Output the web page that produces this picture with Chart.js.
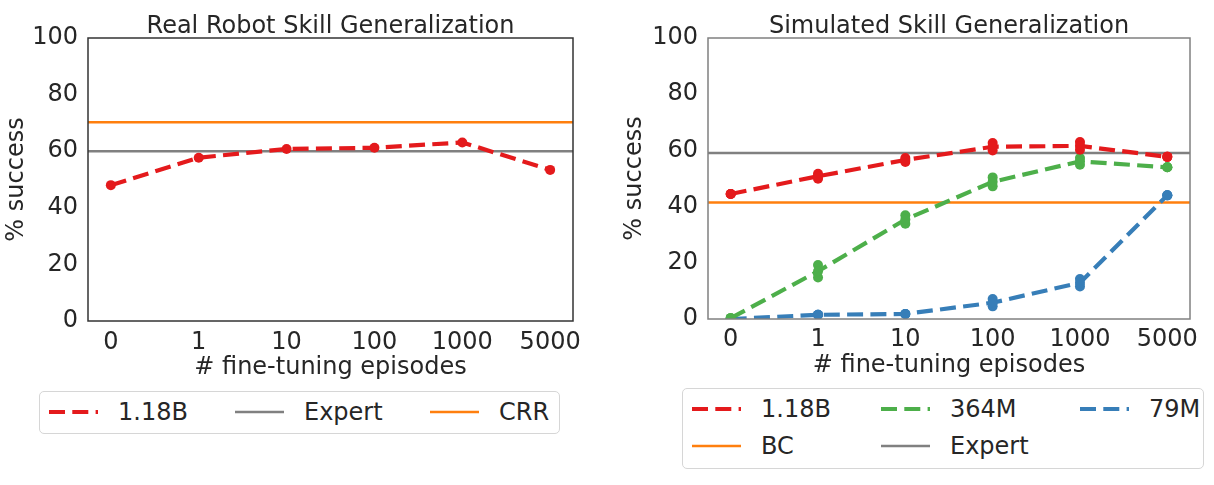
<!DOCTYPE html>
<html>
<head>
<meta charset="utf-8">
<script src="https://cdn.jsdelivr.net/npm/chart.js@4.4.1/dist/chart.umd.min.js"></script>
<style>
body { margin: 0; background: #fff; font-family: "DejaVu Sans", sans-serif; color: #262626; }
#wrap { position: relative; width: 1214px; height: 485px; overflow: hidden; }
canvas { position: absolute; top: 0; }
.legend { position: absolute; box-sizing: border-box; border: 1px solid #d6d6d6; border-radius: 5px; background: #fff; font-size: 24px; }
.item { position: absolute; display: flex; align-items: center; height: 30px; white-space: nowrap; }
.item svg { margin-right: 20px; }
</style>
</head>
<body>
<div id="wrap">
  <canvas id="realChart" width="600" height="385" style="left:0"></canvas>
  <canvas id="simChart" width="614" height="385" style="left:600px"></canvas>
  <div class="legend" id="realLegend" style="left:39px; top:391px; width:521px; height:43px"></div>
  <div class="legend" id="simLegend" style="left:682px; top:388px; width:522px; height:81px"></div>
</div>
<script>
// x categories (plotted at index positions)
const episodeLabels = ["0", "1", "10", "100", "1000", "5000"];
const xIdx = [0, 1, 2, 3, 4, 5];
const yTicks = [0, 20, 40, 60, 80, 100];

// Real robot
const realBig = [48.0, 57.7, 60.8, 61.2, 63.1, 53.4];
const realExpert = 60.0;
const realCRR = 70.2;

// Simulated - mean line and the two runs behind it
const simBig = [44.5, 50.8, 56.6, 61.3, 61.6, 57.7];
const simBigRunA = [44.5, 51.7, 57.3, 62.6, 63.0, 57.7];
const simBigRunB = [44.5, 49.9, 55.9, 60.0, 60.2, 57.7];

const simMid = [0.3, 17.0, 35.4, 48.8, 56.1, 54.0];
const simMidRunA = [0.3, 19.2, 36.9, 50.4, 57.3, 54.0];
const simMidRunB = [0.3, 14.8, 33.9, 47.2, 54.9, 54.0];

const simSmall = [0.0, 1.5, 1.8, 5.8, 12.9, 44.0];
const simSmallRunA = [0.0, 1.5, 1.8, 7.1, 14.2, 44.0];
const simSmallRunB = [0.0, 1.5, 1.8, 4.5, 11.6, 44.0];

const simExpert = 59.1;
const simBC = 41.5;

const RED = "#e41a1c", GREEN = "#4daf4a", BLUE = "#377eb8", ORANGE = "#ff7f0e", GRAY = "#808080";
const TEXT = "#262626";
const FONT = "DejaVu Sans";
const X_MIN = -0.26, X_MAX = 5.26;
const DASH = [16, 7.3];

const pts = vals => vals.map((v, i) => ({ x: xIdx[i], y: v }));
const flat = v => [{ x: X_MIN, y: v }, { x: X_MAX, y: v }];

function dashed(label, vals, color) {
    return {
        label: label, data: pts(vals), borderColor: color, backgroundColor: color,
        borderWidth: 4.2, borderDash: DASH, pointRadius: 5, pointHoverRadius: 5,
        pointBorderWidth: 0, order: 1
    };
}
function runs(vals, color) {
    return {
        data: pts(vals), showLine: false, borderColor: color, backgroundColor: color,
        pointRadius: 5, pointHoverRadius: 5, pointBorderWidth: 0, order: 2
    };
}
function hline(label, v, color) {
    return {
        label: label, data: flat(v), borderColor: color, borderWidth: 2.5,
        pointRadius: 0, pointHoverRadius: 0, order: 3
    };
}

// title centred on the plot box + the box frame
const frameTitle = {
    id: "frameTitle",
    afterDraw(chart, args, opts) {
        const { ctx, chartArea } = chart;
        ctx.save();
        ctx.strokeStyle = opts.frame;
        ctx.lineWidth = 1.5;
        ctx.strokeRect(chartArea.left, chartArea.top, chartArea.right - chartArea.left, chartArea.bottom - chartArea.top);
        ctx.font = "24px '" + FONT + "'";
        ctx.fillStyle = TEXT;
        ctx.textAlign = "center";
        ctx.textBaseline = "alphabetic";
        ctx.fillText(opts.text, (chartArea.left + chartArea.right) / 2, opts.y);
        ctx.restore();
    }
};

function makeOptions(cfg) {
    const font = { family: FONT, size: 24 };
    return {
        responsive: false,
        animation: false,
        layout: { padding: cfg.pad },
        plugins: {
            legend: { display: false },
            tooltip: { enabled: false },
            frameTitle: { text: cfg.title, frame: cfg.frame, y: 33 }
        },
        scales: {
            x: {
                type: "linear", min: X_MIN, max: X_MAX,
                afterBuildTicks: s => { s.ticks = xIdx.map(v => ({ value: v })); },
                ticks: { callback: v => episodeLabels[v], font: font, color: TEXT, padding: cfg.xPad, maxRotation: 0, autoSkip: false },
                grid: { display: false, drawTicks: false },
                border: { display: false },
                title: { display: true, text: "# fine-tuning episodes", font: font, color: TEXT, padding: 0 },
                afterFit: s => { s.height = cfg.xH; }
            },
            y: {
                min: 0, max: 100,
                afterBuildTicks: s => { s.ticks = yTicks.map(v => ({ value: v })); },
                ticks: { font: font, color: TEXT, padding: 10 },
                grid: { display: false, drawTicks: false },
                border: { display: false },
                title: { display: true, text: "% success", font: font, color: TEXT, padding: { top: cfg.yTitlePad, bottom: 0 } },
                afterFit: s => { s.width = cfg.yW; }
            }
        }
    };
}

new Chart(document.getElementById("realChart"), {
    type: "line",
    data: {
        datasets: [
            dashed("1.18B", realBig, RED),
            hline("Expert", realExpert, GRAY),
            hline("CRR", realCRR, ORANGE)
        ]
    },
    options: makeOptions({
        title: "Real Robot Skill Generalization", frame: "#333333",
        pad: { top: 38, right: 27, bottom: 3, left: 0 },
        yW: 88, xH: 61, xPad: 7, yTitlePad: 2
    }),
    plugins: [frameTitle]
});

new Chart(document.getElementById("simChart"), {
    type: "line",
    data: {
        datasets: [
            dashed("1.18B", simBig, RED),
            runs(simBigRunA, RED),
            runs(simBigRunB, RED),
            dashed("364M", simMid, GREEN),
            runs(simMidRunA, GREEN),
            runs(simMidRunB, GREEN),
            dashed("79M", simSmall, BLUE),
            runs(simSmallRunA, BLUE),
            runs(simSmallRunB, BLUE),
            hline("BC", simBC, ORANGE),
            hline("Expert", simExpert, GRAY)
        ]
    },
    options: makeOptions({
        title: "Simulated Skill Generalization", frame: "#808080",
        pad: { top: 38, right: 24, bottom: 5, left: 0 },
        yW: 108, xH: 61, xPad: 6, yTitlePad: 20
    }),
    plugins: [frameTitle]
});

// legends
function buildLegend(id, items) {
    const box = document.getElementById(id);
    items.forEach(it => {
        const d = document.createElement("div");
        d.className = "item";
        d.style.left = it.x + "px";
        d.style.top = (it.y - 15) + "px";
        const dash = it.dash ? ' stroke-dasharray="' + DASH.join(" ") + '"' : "";
        d.innerHTML = '<svg width="49" height="10"><line x1="0" y1="5" x2="49" y2="5" stroke="' + it.color +
            '" stroke-width="' + (it.dash ? 4.2 : 2.5) + '"' + dash + '/></svg><span>' + it.label + '</span>';
        box.appendChild(d);
    });
}

buildLegend("realLegend", [
    { label: "1.18B", color: RED, dash: true, x: 9, y: 20 },
    { label: "Expert", color: GRAY, dash: false, x: 195, y: 20 },
    { label: "CRR", color: ORANGE, dash: false, x: 390, y: 20 }
]);

buildLegend("simLegend", [
    { label: "1.18B", color: RED, dash: true, x: 9, y: 20 },
    { label: "364M", color: GREEN, dash: true, x: 198, y: 20 },
    { label: "79M", color: BLUE, dash: true, x: 397, y: 20 },
    { label: "BC", color: ORANGE, dash: false, x: 9, y: 57 },
    { label: "Expert", color: GRAY, dash: false, x: 198, y: 57 }
]);
</script>
</body>
</html>
